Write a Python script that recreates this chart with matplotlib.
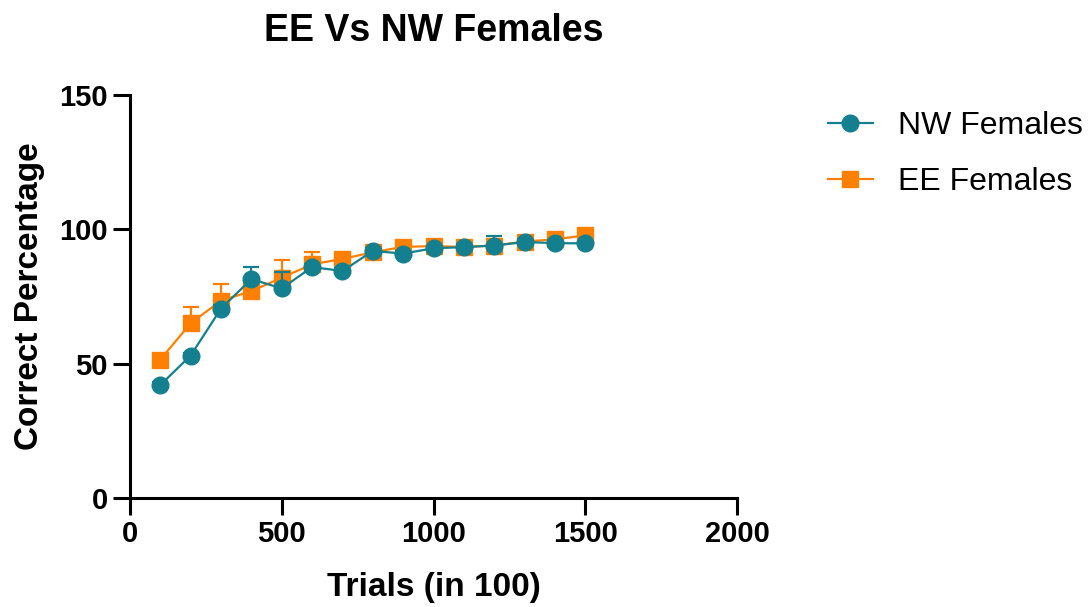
import matplotlib
matplotlib.use("Agg")
import matplotlib.pyplot as plt
from matplotlib.lines import Line2D

plt.rcParams['font.family'] = ['Liberation Sans', 'DejaVu Sans']

trials = [100, 200, 300, 400, 500, 600, 700, 800, 900, 1000, 1100, 1200, 1300, 1400, 1500]

nw_mean = [42, 53, 70.5, 81.5, 78, 86, 84.5, 92, 91, 93, 93.4, 94, 95.3, 94.9, 94.8]
nw_err = [1, 1, 1.5, 4.5, 6, 1, 1, 1, 1, 1, 1, 3.5, 1, 1, 1]

ee_mean = [51.5, 65, 73.5, 77, 82, 87, 89, 91.5, 93.5, 93.8, 93.5, 94, 95.5, 96.3, 97.8]
ee_err = [1, 6, 6, 1, 6.5, 4.5, 1, 1, 1, 1, 1, 1, 1, 1, 1]

teal = '#14808f'
orange = '#ff8000'

fig = plt.figure(figsize=(10.92, 6.07), dpi=100)
ax = fig.add_axes([0.119, 0.180, 0.556, 0.663])

# upper error bars only
ax.errorbar(trials, ee_mean, yerr=[[0] * len(ee_err), ee_err], color=orange,
            marker='s', markersize=11, linewidth=1.6, capsize=6, elinewidth=1.6,
            capthick=1.6, zorder=2)
ax.errorbar(trials, nw_mean, yerr=[[0] * len(nw_err), nw_err], color=teal,
            marker='o', markersize=12, linewidth=1.6, capsize=6, elinewidth=1.6,
            capthick=1.6, zorder=3)

ax.set_xlim(0, 2000)
ax.set_ylim(0, 150)
ax.set_xticks([0, 500, 1000, 1500, 2000])
ax.set_yticks([0, 50, 100, 150])

for side in ['top', 'right']:
    ax.spines[side].set_visible(False)
for side in ['left', 'bottom']:
    ax.spines[side].set_linewidth(2.2)
ax.tick_params(width=2.2, length=12, labelsize=21, pad=4)
for lab in ax.get_xticklabels() + ax.get_yticklabels():
    lab.set_fontweight('bold')

ax.set_xlabel('Trials (in 100)', fontsize=24, fontweight='bold', labelpad=17)
ax.set_ylabel('Correct Percentage', fontsize=24, fontweight='bold', labelpad=10)
ax.set_title('EE Vs NW Females', fontsize=27, fontweight='bold', pad=39)

handles = [
    Line2D([], [], color=teal, marker='o', markersize=12, linewidth=1.6),
    Line2D([], [], color=orange, marker='s', markersize=11, linewidth=1.6),
]
fig.legend(handles, ['NW Females', 'EE Females'], loc='upper left',
           bbox_to_anchor=(0.7435, 0.843), frameon=False, fontsize=23,
           handlelength=1.4, labelspacing=0.82, handletextpad=0.8,
           borderpad=0)

fig.savefig('out.png', dpi=100)
